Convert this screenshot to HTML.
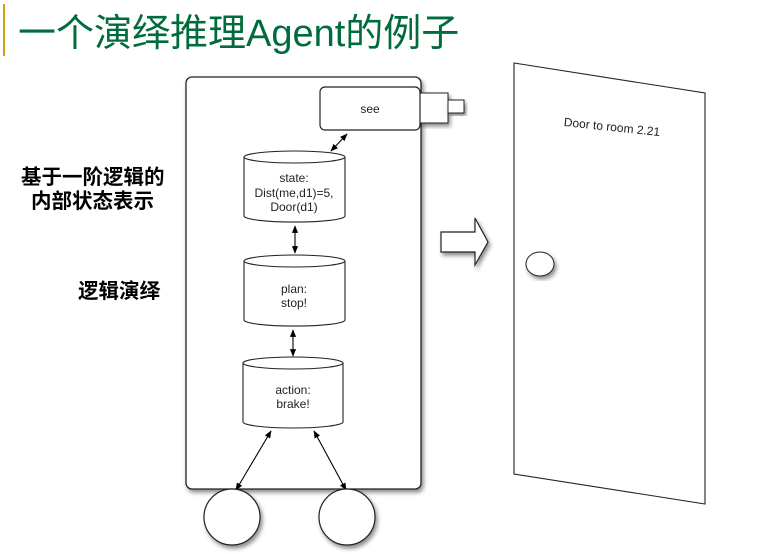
<!DOCTYPE html>
<html><head><meta charset="utf-8"><style>
html,body{margin:0;padding:0;background:#fff;}
body{width:782px;height:554px;overflow:hidden;position:relative;}
svg{position:absolute;left:0;top:0;}
.t{font-family:"Liberation Sans",Arial,sans-serif;font-size:12px;fill:#222;text-anchor:middle;}
.c{font-family:"Liberation Sans","Noto Sans CJK SC",sans-serif;font-weight:bold;font-size:20.5px;fill:#000;}
</style></head><body>
<svg width="782" height="554" viewBox="0 0 782 554">
<defs>
<filter id="sh" x="-20%" y="-20%" width="140%" height="140%"><feDropShadow dx="2" dy="3" stdDeviation="2" flood-color="#000" flood-opacity="0.45"/></filter>
<marker id="a" viewBox="0 0 10 10" refX="9" refY="5" markerWidth="7" markerHeight="7" orient="auto-start-reverse"><path d="M0,1 L10,5 L0,9 z" fill="#000"/></marker>
</defs>
<rect x="3" y="4" width="2" height="52" fill="#d4a017"/>
<text x="18" y="46" font-family="'Liberation Sans','Noto Sans CJK SC',sans-serif" font-size="38" fill="#006b3c">一个演绎推理Agent的例子</text>

<text class="c" x="21" y="184">基于一阶逻辑的</text>
<text class="c" x="31" y="208">内部状态表示</text>
<text class="c" x="78" y="298">逻辑演绎</text>

<rect x="186" y="77" width="235" height="412" rx="6" fill="#fff" stroke="#222" stroke-width="1.3" filter="url(#sh)"/>
<rect x="420" y="93" width="28" height="30" fill="#fff" stroke="#222" filter="url(#sh)"/>
<rect x="448" y="100" width="16" height="13" fill="#fff" stroke="#222" filter="url(#sh)"/>
<rect x="320" y="87" width="100" height="43" rx="5" fill="#fff" stroke="#222" stroke-width="1.2"/>
<text class="t" x="370" y="113">see</text>

<g fill="#fff" stroke="#222" stroke-width="1.1">
<path d="M244,157 L244,216 A50,6 0 0 0 345,216 L345,157"/>
<ellipse cx="294.5" cy="157" rx="50.5" ry="6"/>
<path d="M244,261 L244,320 A50,6 0 0 0 345,320 L345,261"/>
<ellipse cx="294.5" cy="261" rx="50.5" ry="6"/>
<path d="M243,363 L243,422 A50,6 0 0 0 343,422 L343,363"/>
<ellipse cx="293" cy="363" rx="50" ry="6"/>
</g>
<text class="t" x="294" y="182">state:</text>
<text class="t" x="294" y="197">Dist(me,d1)=5,</text>
<text class="t" x="294" y="211">Door(d1)</text>
<text class="t" x="294" y="293">plan:</text>
<text class="t" x="294" y="307">stop!</text>
<text class="t" x="293" y="394">action:</text>
<text class="t" x="293" y="408">brake!</text>

<g stroke="#000" stroke-width="1.1" marker-start="url(#a)" marker-end="url(#a)">
<line x1="347" y1="134" x2="331" y2="151"/>
<line x1="295" y1="226" x2="295" y2="253"/>
<line x1="293" y1="330" x2="293" y2="356"/>
<line x1="271" y1="431" x2="236" y2="490"/>
<line x1="314" y1="431" x2="346" y2="490"/>
</g>

<circle cx="232" cy="517" r="28" fill="#fff" stroke="#222" stroke-width="1.2" filter="url(#sh)"/>
<circle cx="347" cy="517" r="28" fill="#fff" stroke="#222" stroke-width="1.2" filter="url(#sh)"/>

<polygon points="441,232 475,232 475,218 488,242 475,265 475,252 441,252" fill="#fff" stroke="#222" stroke-width="1.2" filter="url(#sh)"/>

<polygon points="514,63 705,93 705,504 514,474" fill="#fff" stroke="#222" stroke-width="1.1"/>
<text class="t" x="612" y="131" font-size="12.5" transform="rotate(6 612 127)">Door to room 2.21</text>
<ellipse cx="540" cy="264" rx="14" ry="12" fill="#fff" stroke="#222" filter="url(#sh)"/>
</svg>
</body></html>
